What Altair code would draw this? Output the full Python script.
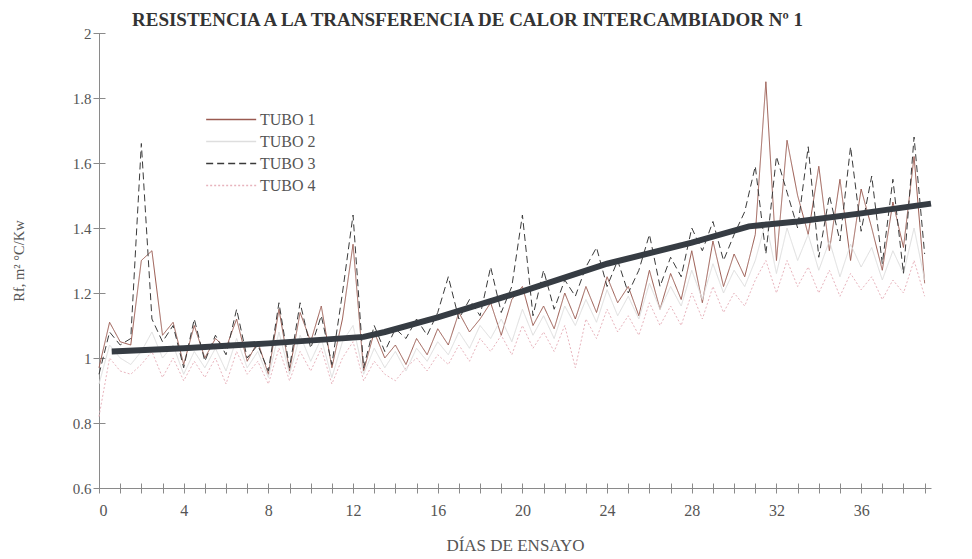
import altair as alt
import pandas as pd

SERIF = "Liberation Serif"

TITLE = "RESISTENCIA A LA TRANSFERENCIA DE CALOR INTERCAMBIADOR Nº 1"
X_TITLE = "DÍAS DE ENSAYO"
Y_TITLE = "Rf, m² °C/Kw"

SERIES = ["TUBO 1", "TUBO 2", "TUBO 3", "TUBO 4"]
COLORS = ["#9a5a50", "#dedede", "#3a3a3a", "#e8b4bd"]
DASHES = [[1, 0], [1, 0], [7, 4], [2, 2]]

# sampling grid of the test days (every half day)
DAYS = [d / 2 for d in range(79)]

TUBO_1 = [0.97, 1.11, 1.05, 1.04, 1.30, 1.33, 1.07, 1.11, 0.98, 1.10,
          1.00, 1.06, 1.03, 1.12, 0.99, 1.05, 0.95, 1.15, 0.96, 1.14,
          1.05, 1.16, 0.97, 1.12, 1.35, 0.96, 1.08, 1.00, 1.04, 0.98,
          1.06, 1.01, 1.09, 1.04, 1.14, 1.08, 1.12, 1.17, 1.07, 1.18,
          1.22, 1.10, 1.16, 1.09, 1.20, 1.12, 1.22, 1.14, 1.25, 1.17,
          1.22, 1.13, 1.27, 1.15, 1.26, 1.18, 1.33, 1.17, 1.36, 1.22,
          1.32, 1.25, 1.38, 1.85, 1.30, 1.67, 1.50, 1.38, 1.59, 1.33,
          1.55, 1.30, 1.52, 1.40, 1.27, 1.48, 1.34, 1.62, 1.23]

TUBO_2 = [0.92, 1.04, 1.00, 0.98, 1.02, 1.08, 1.00, 1.04, 0.95, 1.02,
          0.97, 1.03, 0.96, 1.06, 0.97, 1.02, 0.94, 1.08, 0.95, 1.07,
          0.99, 1.06, 0.94, 1.05, 1.10, 0.95, 1.03, 0.97, 1.02, 0.96,
          1.03, 0.99, 1.05, 1.01, 1.08, 1.03, 1.10, 1.06, 1.12, 1.05,
          1.15, 1.07, 1.13, 1.06, 1.16, 1.10, 1.18, 1.11, 1.21, 1.13,
          1.19, 1.12, 1.23, 1.15, 1.22, 1.16, 1.27, 1.18, 1.29, 1.20,
          1.27, 1.22, 1.30, 1.42, 1.26, 1.40, 1.30, 1.38, 1.27, 1.36,
          1.25, 1.35, 1.28, 1.34, 1.24, 1.33, 1.26, 1.40, 1.24]

TUBO_3 = [0.95, 1.08, 1.04, 1.06, 1.66, 1.12, 1.05, 1.10, 0.97, 1.12,
          0.99, 1.07, 1.01, 1.15, 1.00, 1.04, 0.96, 1.17, 0.97, 1.17,
          1.03, 1.13, 0.98, 1.20, 1.44, 0.97, 1.10, 1.02, 1.09, 1.06,
          1.12, 1.07, 1.14, 1.25, 1.12, 1.18, 1.13, 1.28, 1.14, 1.22,
          1.44, 1.13, 1.27, 1.15, 1.24, 1.19, 1.28, 1.34, 1.22, 1.30,
          1.20, 1.27, 1.38, 1.22, 1.31, 1.25, 1.40, 1.33, 1.42, 1.30,
          1.38, 1.45, 1.59, 1.32, 1.62, 1.51, 1.40, 1.65, 1.31, 1.50,
          1.36, 1.65, 1.39, 1.56, 1.29, 1.55, 1.26, 1.68, 1.32]

TUBO_4 = [0.82, 1.00, 0.96, 0.95, 0.98, 1.02, 0.94, 1.00, 0.93, 0.99,
          0.94, 1.00, 0.92, 1.02, 0.95, 0.99, 0.92, 1.03, 0.93, 1.02,
          0.96, 1.03, 0.92, 1.00, 1.05, 0.93, 0.99, 0.95, 0.93, 0.97,
          1.00, 0.96, 1.01, 0.98, 1.04, 0.99, 1.06, 1.02, 1.07, 1.01,
          1.10, 1.03, 1.08, 1.02, 1.10, 0.97, 1.12, 1.06, 1.15, 1.08,
          1.13, 1.07, 1.17, 1.10, 1.16, 1.10, 1.20, 1.12, 1.22, 1.14,
          1.20, 1.16, 1.24, 1.30, 1.20, 1.30, 1.22, 1.28, 1.20, 1.27,
          1.19, 1.26, 1.21, 1.25, 1.18, 1.24, 1.20, 1.30, 1.19]

TREND_DAYS = [0.6, 4, 8, 12.5, 13.5, 16, 20, 24, 28, 30.7, 33, 36, 39.3]
TREND_VALUES = [1.02, 1.03, 1.045, 1.065, 1.08, 1.125, 1.205, 1.29, 1.355,
                1.405, 1.42, 1.445, 1.475]

X_LABELS = [0, 4, 8, 12, 16, 20, 24, 28, 32, 36]
X_TICKS = list(range(0, 40))
Y_TICKS = [0.6, 0.8, 1, 1.2, 1.4, 1.6, 1.8, 2]

rows = []
for name, vals in zip(SERIES, [TUBO_1, TUBO_2, TUBO_3, TUBO_4]):
    for d, v in zip(DAYS, vals):
        rows.append({"day": d, "value": v, "serie": name})
df = pd.DataFrame(rows)
trend_df = pd.DataFrame({"day": TREND_DAYS, "value": TREND_VALUES})

AX = "#8a8a8a"
TXT = "#555555"

x_scale = alt.Scale(domain=[0, 39.3], nice=False, zero=False)
y_scale = alt.Scale(domain=[0.6, 2], nice=False, zero=False)

legend = alt.Legend(
    title=None, orient="none", legendX=106, legendY=77, padding=0,
    labelFont=SERIF, labelFontSize=16, labelColor=TXT,
    symbolType="M-1,0H5", symbolSize=278, symbolStrokeWidth=1.5,
    labelOffset=36, rowPadding=4,
)

lines = alt.Chart(df).mark_line(strokeWidth=1).encode(
    x=alt.X("day:Q", scale=x_scale, axis=alt.Axis(
        values=X_LABELS, ticks=False, grid=False, domainColor=AX,
        labelFont=SERIF, labelFontSize=16, labelColor=TXT, labelPadding=14,
        title=X_TITLE, titleFont=SERIF, titleFontSize=17,
        titleFontWeight="normal", titleColor=TXT, titlePadding=19)),
    y=alt.Y("value:Q", scale=y_scale, axis=alt.Axis(
        values=Y_TICKS, format="~g", ticks=False, grid=False, domainColor=AX,
        labelFont=SERIF, labelFontSize=15, labelColor=TXT, labelPadding=8,
        title=Y_TITLE, titleFont=SERIF, titleFontSize=14.5,
        titleFontWeight="normal", titleColor=TXT, titlePadding=46)),
    color=alt.Color("serie:N", scale=alt.Scale(domain=SERIES, range=COLORS),
                    legend=legend),
    strokeDash=alt.StrokeDash("serie:N",
                              scale=alt.Scale(domain=SERIES, range=DASHES),
                              legend=legend),
)

trend = alt.Chart(trend_df).mark_line(color="#363c43", strokeWidth=6).encode(
    x=alt.X("day:Q", scale=x_scale, axis=alt.Axis(
        orient="bottom", values=X_TICKS, labels=False, domain=False,
        grid=False, tickSize=10, offset=-5, tickColor=AX, title=None)),
    y=alt.Y("value:Q", scale=y_scale, axis=alt.Axis(
        orient="left", values=Y_TICKS, labels=False, domain=False,
        grid=False, tickSize=12, offset=-6, tickColor=AX, title=None)),
)

chart = alt.layer(lines, trend).resolve_axis(
    x="independent", y="independent"
).properties(
    width=832, height=455,
    autosize=alt.AutoSizeParams(type="none"),
    padding={"left": 91, "top": 25, "right": 20, "bottom": 70},
    background="white",
    title=alt.TitleParams(
        TITLE, anchor="start", frame="group", dx=33, offset=-4,
        font=SERIF, fontSize=19, fontWeight="bold", color="#333333"),
).configure_view(stroke=None)

chart.save("out.html", embed_options={"renderer": "svg", "actions": False})
